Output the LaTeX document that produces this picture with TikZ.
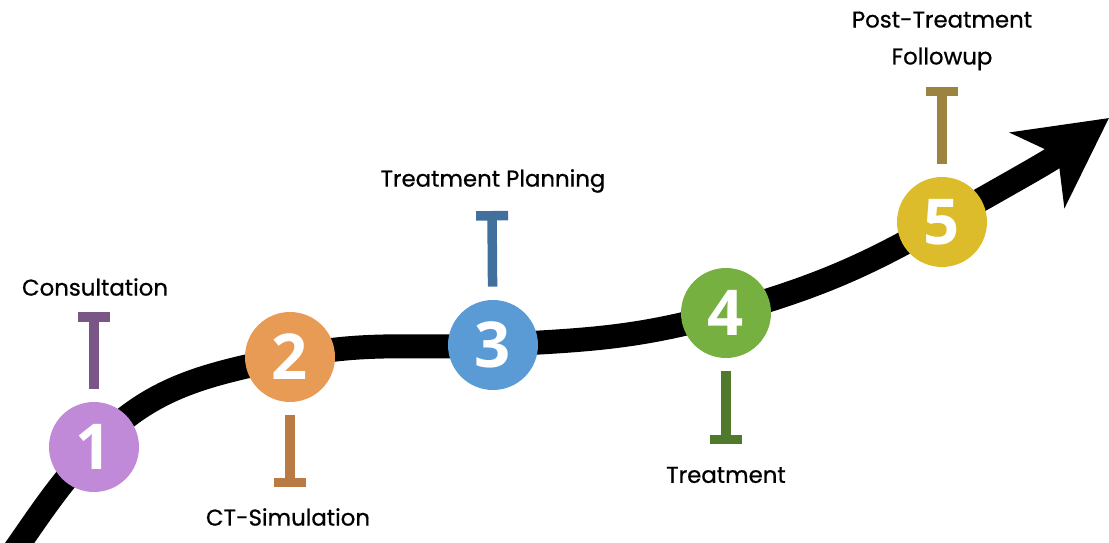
\documentclass[tikz,border=0pt]{standalone}
\usepackage{fontspec}
\setmainfont{Poppins}
\newfontfamily\labelfont{Poppins}[FakeBold=0.7]
\newfontfamily\numfont{Open Sans}
\usetikzlibrary{arrows.meta}

\definecolor{oneFill}{HTML}{C08AD8}
\definecolor{oneTee}{HTML}{7A5687}
\definecolor{twoFill}{HTML}{E89B55}
\definecolor{twoTee}{HTML}{B97A44}
\definecolor{threeFill}{HTML}{5B9BD5}
\definecolor{threeTee}{HTML}{41709C}
\definecolor{fourFill}{HTML}{76B041}
\definecolor{fourTee}{HTML}{4F7A2B}
\definecolor{fiveFill}{HTML}{DDBC2B}
\definecolor{fiveTee}{HTML}{9C8340}

\begin{document}
\begin{tikzpicture}[x=0.02cm,y=0.02cm]
\tikzstyle{stage} = [circle, inner sep=0pt, minimum size=1.8cm, text=white, font=\numfont\bfseries\fontsize{36}{36}\selectfont]
\tikzstyle{road} = [line width=0.48cm, -{Stealth[length=50pt, width=52pt, inset=14pt]}]
\tikzstyle{tee} = [line width=0.19cm, shorten <=0.26cm, -{Bar[width=0.64cm]}]
\tikzstyle{label} = [font=\labelfont\fontsize{13}{21}\selectfont, align=center, inner sep=0pt]
\useasboundingbox (0,0) rectangle (1109,542);

\coordinate (p0) at (12,-12);
\coordinate (p1) at (94,95);
\coordinate (p2) at (290,185);
\coordinate (p3) at (493,197);
\coordinate (p4) at (726,229);
\coordinate (p5) at (942,320);
\coordinate (tip) at (1109,424);

% the road
\draw[road] (p0) to[out=55,in=227] (p1) to[out=47,in=192] (p2)
            to[out=12,in=183] (p3) to[out=3,in=196] (p4)
            to[out=16,in=210] (p5) to[out=30,in=216] (tip);

\node[stage, fill=oneFill] (c1) at (p1) {1};
\node[stage, fill=twoFill] (c2) at (p2) {2};
\node[stage, fill=threeFill] (c3) at (p3) {3};
\node[stage, fill=fourFill] (c4) at (p4) {4};
\node[stage, fill=fiveFill] (c5) at (p5) {5};

\coordinate (t1) at (94,230);
\coordinate (t2) at (290,55);
\coordinate (t3) at (492,331);
\coordinate (t4) at (726,98);
\coordinate (t5) at (942,455);
\draw[tee, draw=oneTee] (c1) -- (t1);
\draw[tee, draw=twoTee] (c2) -- (t2);
\draw[tee, draw=threeTee] (c3) -- (t3);
\draw[tee, draw=fourTee] (c4) -- (t4);
\draw[tee, draw=fiveTee] (c5) -- (t5);

\node[label] (l1) at (95,255) {Consultation};
\node[label] (l2) at (288,25) {CT-Simulation};
\node[label] (l3) at (493,361) {Treatment Planning};
\node[label] (l4) at (726,67) {Treatment};
\node[label] (l5) at (942,501) {Post-Treatment\\Followup};
\end{tikzpicture}
\end{document}
